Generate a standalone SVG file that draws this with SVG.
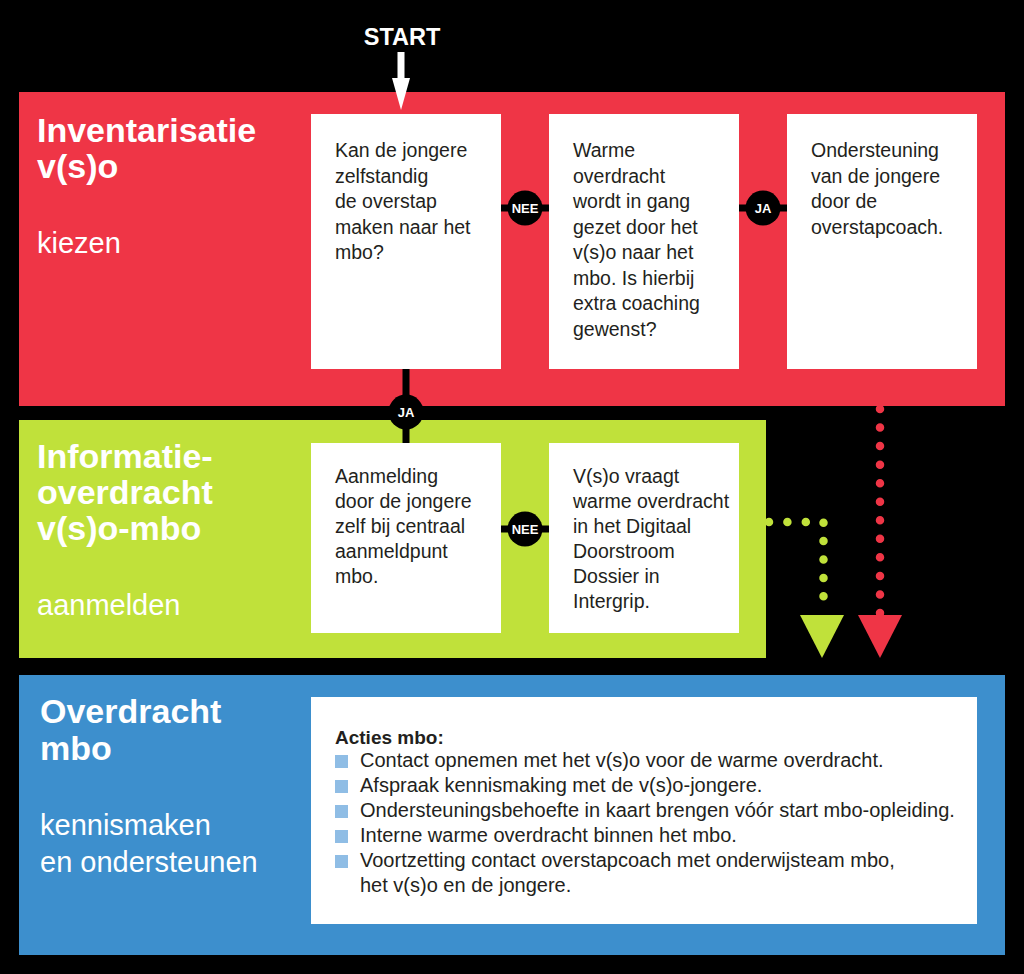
<svg xmlns="http://www.w3.org/2000/svg" width="1024" height="974" viewBox="0 0 1024 974">
<style>
.band-title{font-family:"Liberation Sans",Arial,sans-serif;font-weight:bold;font-size:34px;fill:#fff}
.band-sub{font-family:"Liberation Sans",Arial,sans-serif;font-size:29px;fill:#fff}
.box{fill:#fff}
.txt{font-family:"Liberation Sans",Arial,sans-serif;font-size:19.5px;fill:#231f20}
.list{font-family:"Liberation Sans",Arial,sans-serif;font-size:20px;fill:#231f20}
.lbl{font-family:"Liberation Sans",Arial,sans-serif;font-weight:bold;font-size:13px;fill:#fff;text-anchor:middle}
.bullet{fill:#8fbde5}
</style>
<rect x="0" y="0" width="1024" height="974" fill="#000"/>

<g id="band-inventarisatie">
<rect x="19" y="92" width="986" height="314" fill="#ef3546"/>
<text class="band-title" x="37" y="142">Inventarisatie</text>
<text class="band-title" x="37" y="178">v(s)o</text>
<text class="band-sub" x="37" y="253">kiezen</text>
</g>

<g id="band-informatie">
<rect x="19" y="420" width="747" height="238" fill="#c0e13a"/>
<text class="band-title" x="37" y="468">Informatie-</text>
<text class="band-title" x="37" y="504">overdracht</text>
<text class="band-title" x="37" y="540">v(s)o-mbo</text>
<text class="band-sub" x="37" y="615">aanmelden</text>
</g>

<g id="band-overdracht">
<rect x="19" y="675" width="986" height="280" fill="#3d8fcd"/>
<text class="band-title" x="40" y="723">Overdracht</text>
<text class="band-title" x="40" y="760">mbo</text>
<text class="band-sub" x="40" y="835">kennismaken</text>
<text class="band-sub" x="40" y="872">en ondersteunen</text>
</g>

<g id="connectors">
<rect x="397.5" y="52" width="7" height="28" fill="#fff"/>
<polygon points="392,78 410,78 401,110" fill="#fff"/>
<text x="402" y="45" font-family="'Liberation Sans',Arial,sans-serif" font-weight="bold" font-size="23.5" fill="#fff" text-anchor="middle">START</text>
<rect x="501" y="204.5" width="48" height="7" fill="#000"/>
<circle cx="525" cy="208" r="17.5" fill="#000"/>
<text class="lbl" x="525" y="212.5">NEE</text>
<rect x="739" y="204.5" width="48" height="7" fill="#000"/>
<circle cx="763" cy="208" r="17.5" fill="#000"/>
<text class="lbl" x="763" y="212.5">JA</text>
<rect x="402.5" y="369" width="7" height="74" fill="#000"/>
<circle cx="406" cy="412" r="17.5" fill="#000"/>
<text class="lbl" x="406" y="416.5">JA</text>
<rect x="501" y="525.5" width="48" height="7" fill="#000"/>
<circle cx="525" cy="529" r="17.5" fill="#000"/>
<text class="lbl" x="525" y="533.5">NEE</text>
<path d="M769 522 H823.5 V614" fill="none" stroke="#c0e13a" stroke-width="8.5" stroke-linecap="round" stroke-dasharray="0 18.4"/>
<polygon points="800,615 844,615 822,658" fill="#c0e13a"/>
<path d="M880 409 V613" fill="none" stroke="#ef3546" stroke-width="8.5" stroke-linecap="round" stroke-dasharray="0 18.545"/>
<polygon points="858,615 902,615 880,658" fill="#ef3546"/>
</g>

<g id="node-zelfstandig">
<rect class="box" x="311" y="114" width="190" height="255"/>
<text class="txt" x="335" y="157">Kan de jongere</text>
<text class="txt" x="335" y="182.5">zelfstandig</text>
<text class="txt" x="335" y="208">de overstap</text>
<text class="txt" x="335" y="233.5">maken naar het</text>
<text class="txt" x="335" y="259">mbo?</text>
</g>

<g id="node-warme-overdracht">
<rect class="box" x="549" y="114" width="190" height="255"/>
<text class="txt" x="573" y="157">Warme</text>
<text class="txt" x="573" y="182.5">overdracht</text>
<text class="txt" x="573" y="208">wordt in gang</text>
<text class="txt" x="573" y="233.5">gezet door het</text>
<text class="txt" x="573" y="259">v(s)o naar het</text>
<text class="txt" x="573" y="284.5">mbo. Is hierbij</text>
<text class="txt" x="573" y="310">extra coaching</text>
<text class="txt" x="573" y="335.5">gewenst?</text>
</g>

<g id="node-ondersteuning">
<rect class="box" x="787" y="114" width="190" height="255"/>
<text class="txt" x="811" y="157">Ondersteuning</text>
<text class="txt" x="811" y="182.5">van de jongere</text>
<text class="txt" x="811" y="208">door de</text>
<text class="txt" x="811" y="233.5">overstapcoach.</text>
</g>

<g id="node-aanmelding">
<rect class="box" x="311" y="443" width="190" height="190"/>
<text class="txt" x="335" y="483">Aanmelding</text>
<text class="txt" x="335" y="508">door de jongere</text>
<text class="txt" x="335" y="533">zelf bij centraal</text>
<text class="txt" x="335" y="558">aanmeldpunt</text>
<text class="txt" x="335" y="583">mbo.</text>
</g>

<g id="node-vso-vraagt">
<rect class="box" x="549" y="443" width="190" height="190"/>
<text class="txt" x="573" y="483">V(s)o vraagt</text>
<text class="txt" x="573" y="508">warme overdracht</text>
<text class="txt" x="573" y="533">in het Digitaal</text>
<text class="txt" x="573" y="558">Doorstroom</text>
<text class="txt" x="573" y="583">Dossier in</text>
<text class="txt" x="573" y="608">Intergrip.</text>
</g>

<g id="node-acties-mbo">
<rect class="box" x="311" y="697" width="666" height="227"/>
<text x="335" y="744" font-family="'Liberation Sans',Arial,sans-serif" font-weight="bold" font-size="19px" fill="#231f20">Acties mbo:</text>
<rect class="bullet" x="335" y="755" width="13" height="13"/>
<text class="list" x="360" y="767">Contact opnemen met het v(s)o voor de warme overdracht.</text>
<rect class="bullet" x="335" y="780" width="13" height="13"/>
<text class="list" x="360" y="792">Afspraak kennismaking met de v(s)o-jongere.</text>
<rect class="bullet" x="335" y="805" width="13" height="13"/>
<text class="list" x="360" y="817">Ondersteuningsbehoefte in kaart brengen vóór start mbo-opleiding.</text>
<rect class="bullet" x="335" y="830" width="13" height="13"/>
<text class="list" x="360" y="842">Interne warme overdracht binnen het mbo.</text>
<rect class="bullet" x="335" y="855" width="13" height="13"/>
<text class="list" x="360" y="867">Voortzetting contact overstapcoach met onderwijsteam mbo,</text>
<text class="list" x="360" y="892">het v(s)o en de jongere.</text>
</g>
</svg>
